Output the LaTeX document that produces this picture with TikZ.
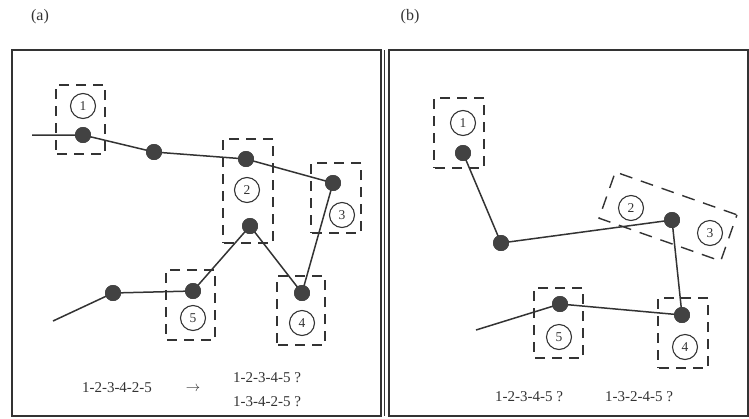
\documentclass[tikz,border=0pt]{standalone}
\usepackage{fontspec}
\setmainfont{Liberation Serif}
\definecolor{ink}{HTML}{333333}
\definecolor{dotc}{HTML}{424242}
\begin{document}
\begin{tikzpicture}[x=1pt,y=1pt,
  dot/.style={circle,fill=dotc,draw=dotc,inner sep=0pt,minimum size=15.5pt},
  num/.style={circle,draw=ink,line width=1.1pt,inner sep=0pt,minimum size=25pt,font=\fontsize{13.5}{13.5}\selectfont,text=ink},
  dbox/.style={draw=ink,line width=1.4pt,dash pattern=on 10pt off 7pt,dash phase=-1pt,inner sep=0pt},
  chain/.style={draw=ink,line width=1.5pt},
  frame/.style={draw=ink,line width=1.4pt},
  lbl/.style={font=\fontsize{16}{16}\selectfont,text=ink,inner sep=0pt},
  seq/.style={font=\fontsize{15}{15}\selectfont,text=ink,inner sep=0pt}]
\useasboundingbox (0,0) rectangle (749,-418);
% frames
\node[lbl] (la) at (40,-17) {(a)};
\node[lbl] (lb) at (410,-17) {(b)};
\draw[frame] (12,-50) rectangle (381,-416);
\draw[frame] (389,-50) rectangle (748,-416);
\draw[ink,line width=0.7pt] (384,-50) -- (384,-416);
% ---------- panel (a) ----------
\node[dbox,minimum width=49pt,minimum height=69pt] (ab1) at (80.5,-119.5) {};
\node[dbox,minimum width=50pt,minimum height=104pt] (ab2) at (248,-191) {};
\node[dbox,minimum width=50pt,minimum height=70pt] (ab3) at (336,-198) {};
\node[dbox,minimum width=48pt,minimum height=69pt] (ab4) at (301,-310.5) {};
\node[dbox,minimum width=49pt,minimum height=70pt] (ab5) at (190.5,-305) {};
\coordinate (a0) at (32,-135);
\node[dot] (a1) at (83,-135) {};
\node[dot] (a2) at (154,-152) {};
\node[dot] (a3) at (246,-159) {};
\node[dot] (a4) at (333,-183) {};
\node[dot] (a5) at (302,-293) {};
\node[dot] (a6) at (250,-226) {};
\node[dot] (a7) at (193,-291) {};
\node[dot] (a8) at (113,-293) {};
\coordinate (a9) at (53,-321);
\draw[chain] (a0) -- (a1.center) -- (a2.center) -- (a3.center) -- (a4.center) -- (a5.center) -- (a6.center) -- (a7.center) -- (a8.center) -- (a9);
\foreach \n in {1,...,8} \node[dot] at (a\n) {};
\node[num] (ac1) at (83,-106) {1};
\node[num] (ac2) at (247,-190) {2};
\node[num] (ac3) at (342,-215) {3};
\node[num] (ac4) at (302,-323) {4};
\node[num] (ac5) at (193,-318) {5};
\node[seq] (at1) at (117,-388) {1-2-3-4-2-5};
\node[seq] (aar) at (193,-389) {$\rightarrow$};
\node[seq] (at2) at (267,-378) {1-2-3-4-5 ?};
\node[seq] (at3) at (267,-402) {1-3-4-2-5 ?};
% ---------- panel (b) ----------
\node[dbox,minimum width=50pt,minimum height=70pt] (bb1) at (459,-133) {};
\node[dbox,minimum width=49pt,minimum height=70pt] (bb5) at (558.5,-323) {};
\node[dbox,minimum width=50pt,minimum height=70pt] (bb4) at (683,-333) {};
\node[dbox,minimum width=129pt,minimum height=49pt,rotate=-19.4,dash pattern=on 13pt off 9pt] (bb23) at (668,-216.5) {};
\node[dot] (b1) at (463,-153) {};
\node[dot] (b2) at (501,-243) {};
\node[dot] (b3) at (672,-220) {};
\node[dot] (b4) at (682,-315) {};
\node[dot] (b5) at (560,-304) {};
\coordinate (b6) at (476,-330);
\draw[chain] (b1.center) -- (b2.center) -- (b3.center) -- (b4.center) -- (b5.center) -- (b6);
\foreach \n in {1,...,5} \node[dot] at (b\n) {};
\node[num] (bc1) at (463,-123) {1};
\node[num] (bc2) at (631,-208) {2};
\node[num] (bc3) at (710,-233) {3};
\node[num] (bc4) at (685,-347) {4};
\node[num] (bc5) at (559,-337) {5};
\node[seq] (bt1) at (529,-397) {1-2-3-4-5 ?};
\node[seq] (bt2) at (639,-397) {1-3-2-4-5 ?};
\end{tikzpicture}
\end{document}
